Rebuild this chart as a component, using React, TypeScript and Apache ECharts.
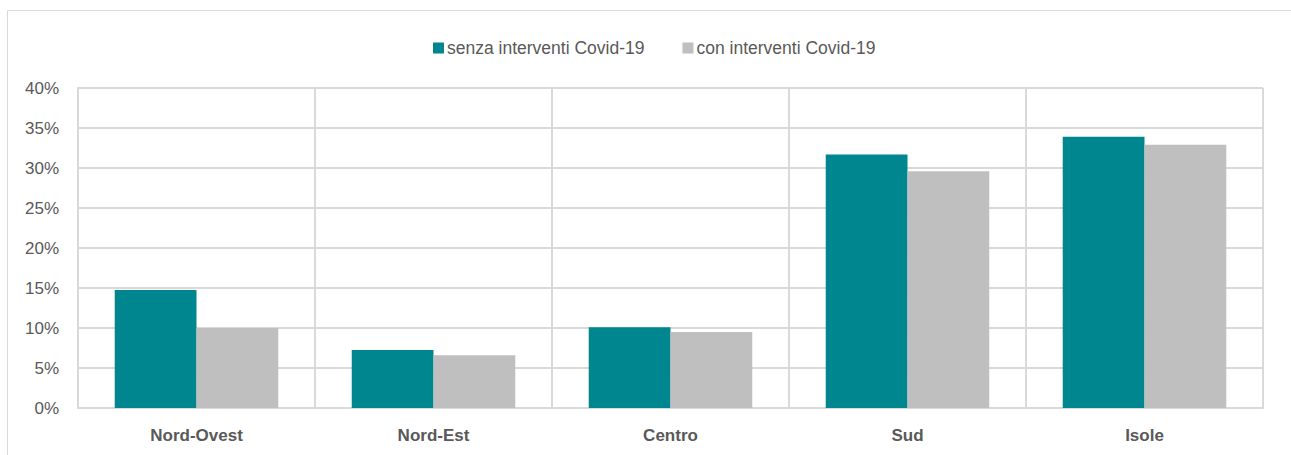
import React, { useEffect, useRef } from "react";
import * as echarts from "echarts";

const categories = ["Nord-Ovest", "Nord-Est", "Centro", "Sud", "Isole"];
const senzaInterventi = [14.75, 7.25, 10.1, 31.7, 33.9];
const conInterventi = [10.0, 6.6, 9.5, 29.6, 32.9];
const seriesNames = ["senza interventi Covid-19", "con interventi Covid-19"];

const FONT = "'Liberation Sans Narrow', 'Arial Narrow', 'Liberation Sans', Arial, sans-serif";

export default function App() {
  const ref = useRef<HTMLDivElement>(null);
  useEffect(() => {
    if (!ref.current) return;
    const chart = echarts.init(ref.current, null, { renderer: "svg" });
    chart.setOption({
      animation: false,
      backgroundColor: "#ffffff",
      textStyle: { fontFamily: FONT },
      graphic: [
        {
          type: "rect",
          shape: { x: 7.5, y: 10.5, width: 1300, height: 460 },
          style: { fill: "none", stroke: "#d9d9d9", lineWidth: 1 },
          silent: true,
        },
      ],
      legend: {
        top: 34,
        left: 428,
        itemWidth: 11,
        itemHeight: 11,
        itemGap: 38,
        icon: "rect",
        textStyle: { fontFamily: FONT, fontSize: 17.5, color: "#595959", padding: [0, 0, 0, -2] },
        data: seriesNames,
      },
      grid: { left: 78, right: 28, top: 88, bottom: 47, containLabel: false },
      xAxis: {
        type: "category",
        data: categories,
        axisLine: { show: true, lineStyle: { color: "#d9d9d9", width: 2 } },
        axisTick: { show: false },
        splitLine: { show: true, lineStyle: { color: "#d9d9d9", width: 2 } },
        axisLabel: {
          fontFamily: FONT,
          fontSize: 17,
          fontWeight: "bold",
          color: "#595959",
          margin: 19,
        },
      },
      yAxis: {
        type: "value",
        min: 0,
        max: 40,
        interval: 5,
        axisLine: { show: true, lineStyle: { color: "#d9d9d9", width: 2 } },
        axisTick: { show: false },
        splitLine: { show: true, lineStyle: { color: "#d9d9d9", width: 2 } },
        axisLabel: {
          fontFamily: FONT,
          fontSize: 17,
          color: "#595959",
          margin: 19,
          formatter: (v: number) => `${v}%`,
        },
      },
      series: [
        {
          name: seriesNames[0],
          type: "bar",
          data: senzaInterventi,
          itemStyle: { color: "#00868f" },
          barGap: "0%",
          barCategoryGap: "31%",
        },
        {
          name: seriesNames[1],
          type: "bar",
          data: conInterventi,
          itemStyle: { color: "#bfbfbf" },
          barGap: "0%",
          barCategoryGap: "31%",
        },
      ],
    });
    return () => chart.dispose();
  }, []);
  return (
    <div
      ref={ref}
      style={{ position: "fixed", left: 0, top: 0, width: 1291, height: 455 }}
    />
  );
}
